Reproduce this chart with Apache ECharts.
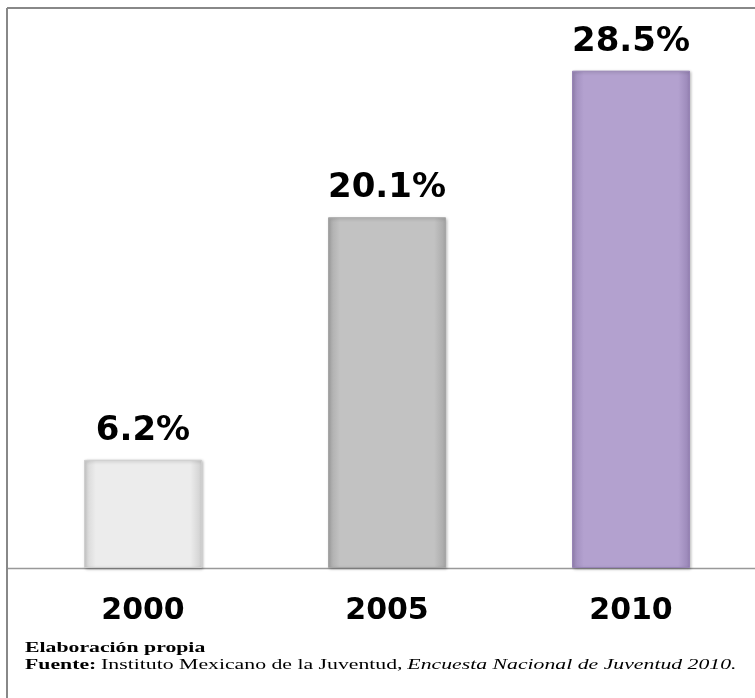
<!DOCTYPE html>
<html><head><meta charset="utf-8">
<script src="https://cdn.jsdelivr.net/npm/echarts@6/dist/echarts.min.js"></script>
<style>html,body{margin:0;padding:0;background:#fff}#c{width:755px;height:698px}</style>
</head><body><div id="c"></div>
<script>
const categories = ['2000', '2005', '2010'];
const values = [6.2, 20.1, 28.5];
const labels = ['6.2%', '20.1%', '28.5%'];
const barColors = [
  ['#d2d2d2', '#ececec', '#cfcfcf'],
  ['#a8a8a8', '#c2c2c2', '#a6a6a6'],
  ['#9a88b8', '#b3a1cf', '#9784b5']
];
const chart = echarts.init(document.getElementById('c'));
function grad(c){
  return new echarts.graphic.LinearGradient(0,0,1,0,[
    {offset:0,color:c[0]},{offset:0.1,color:c[1]},{offset:0.9,color:c[1]},{offset:1,color:c[2]}]);
}
chart.setOption({
  animation:false,
  grid:{left:21,right:2,top:44.5,bottom:130},
  xAxis:{type:'category',data:categories,
    axisLine:{show:false},axisTick:{show:false},
    axisLabel:{fontFamily:'DejaVu Sans',fontWeight:'bold',fontSize:30,color:'#000',margin:28}},
  yAxis:{type:'value',min:0,max:30,show:false,splitLine:{show:false}},
  series:[{type:'bar',barWidth:118,
    data:values.map((v,i)=>({value:v,itemStyle:{color:grad(barColors[i]),borderColor:barColors[i][2],borderWidth:1,
      shadowColor:'rgba(0,0,0,0.25)',shadowBlur:3,shadowOffsetX:1,shadowOffsetY:1}})),
    label:{show:true,position:'top',distance:12,formatter:p=>labels[p.dataIndex],
      fontFamily:'DejaVu Sans',fontWeight:'bold',fontSize:34,color:'#000'}
  }],
  graphic:[
    {type:'line',shape:{x1:7,y1:8,x2:755,y2:8},style:{stroke:'#888',lineWidth:2}},
    {type:'line',shape:{x1:7,y1:8,x2:7,y2:698},style:{stroke:'#888',lineWidth:2}},
    {type:'line',shape:{x1:7,y1:568.5,x2:755,y2:568.5},style:{stroke:'#999',lineWidth:1.5},z:-1},
    {type:'text',x:25,y:641,scaleX:1.45,style:{text:'Elaboración propia',font:'bold 15px "Liberation Serif"',fill:'#000'}},
    {type:'text',x:25,y:658,scaleX:1.45,style:{rich:{b:{font:'bold 15px "Liberation Serif"',fill:'#000'},n:{font:'15px "Liberation Serif"',fill:'#000'},i:{font:'italic 15px "Liberation Serif"',fill:'#000'}},
      text:'{b|Fuente:} {n|Instituto Mexicano de la Juventud,} {i|Encuesta Nacional de Juventud 2010.}'}}
  ]
});
</script></body></html>
